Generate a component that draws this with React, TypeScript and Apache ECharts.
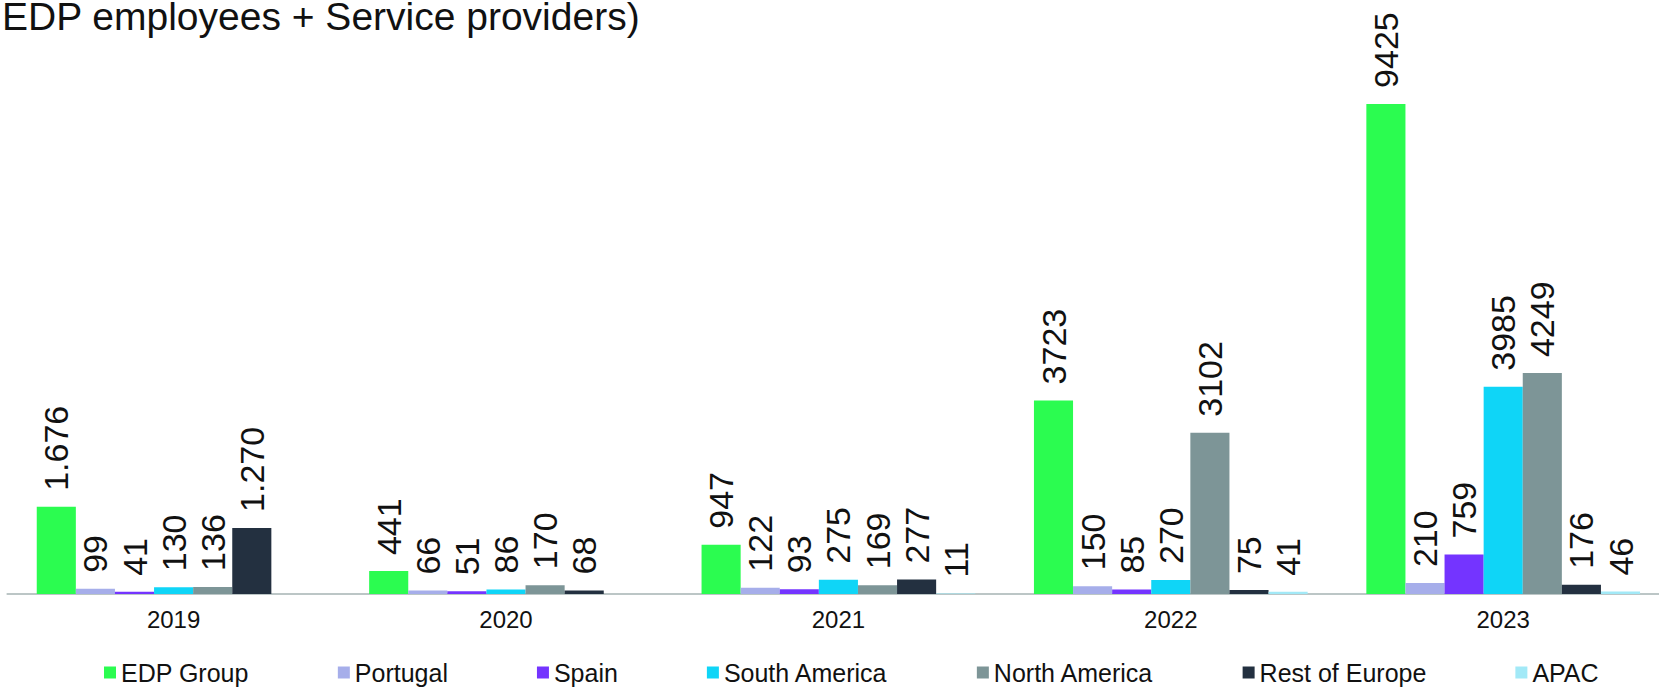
import React, { useEffect, useRef } from "react";
import * as echarts from "echarts";

const titleText = "EDP employees + Service providers)";
const years = ["2019", "2020", "2021", "2022", "2023"];
const seriesNames = [
  "EDP Group",
  "Portugal",
  "Spain",
  "South America",
  "North America",
  "Rest of Europe",
  "APAC",
];
const edpGroup = [1676, 441, 947, 3723, 9425];
const portugal = [99, 66, 122, 150, 210];
const spain = [41, 51, 93, 85, 759];
const southAmerica = [130, 86, 275, 270, 3985];
const northAmerica = [136, 170, 169, 3102, 4249];
const restOfEurope = [1270, 68, 277, 75, 176];
const apac = [null, null, 11, 41, 46];
const dotSeparatorYears = ["2019"];

const seriesValues = [edpGroup, portugal, spain, southAmerica, northAmerica, restOfEurope, apac];
const seriesColors = ["#2bfc50", "#a6aeea", "#7434ff", "#0fd5f7", "#7d9597", "#233040", "#a2e9f7"];

const FONT = "'Liberation Sans', Arial, Helvetica, sans-serif";

export default function App() {
  const ref = useRef<HTMLDivElement>(null);
  useEffect(() => {
    if (!ref.current) return;
    const chart = echarts.init(ref.current, undefined, { renderer: "svg" });
    const fmt = (p: any) => {
      const v = p.value;
      if (v == null) return "";
      if (dotSeparatorYears.includes(p.name) && v >= 1000) {
        const s = String(v);
        return s.slice(0, s.length - 3) + "." + s.slice(s.length - 3);
      }
      return String(v);
    };
    chart.setOption({
      animation: false,
      textStyle: { fontFamily: FONT },
      title: {
        text: titleText,
        left: -3,
        top: -8,
        textStyle: { fontSize: 39, fontWeight: "normal", color: "#111", fontFamily: FONT },
      },
      legend: {
        data: seriesNames,
        left: 104,
        top: 660,
        padding: 0,
        itemGap: 89,
        itemWidth: 12,
        itemHeight: 12,
        icon: "rect",
        textStyle: { fontSize: 25, color: "#111", fontFamily: FONT },
      },
      grid: {
        left: 7.4,
        top: 74,
        bottom: 99,
        width: 1662,
        containLabel: false,
        outerBoundsMode: "none",
      },
      xAxis: {
        type: "category",
        data: years,
        axisLine: { show: true, lineStyle: { color: "#bcc6c6", width: 2 } },
        axisTick: { show: false },
        axisLabel: { fontSize: 24, color: "#111", margin: 13, fontFamily: FONT },
      },
      yAxis: {
        type: "value",
        min: 0,
        max: 10000,
        show: false,
        splitLine: { show: false },
      },
      series: seriesNames.map((name, i) => ({
        name,
        type: "bar",
        data: seriesValues[i],
        barWidth: 39.1,
        barGap: "0%",
        itemStyle: { color: seriesColors[i] },
        label: {
          show: true,
          position: "top",
          rotate: 90,
          align: "left",
          verticalAlign: "middle",
          distance: 16,
          fontSize: 34,
          color: "#111",
          fontFamily: FONT,
          formatter: fmt,
        },
      })),
    });
    return () => chart.dispose();
  }, []);
  return (
    <div
      ref={ref}
      style={{ position: "absolute", left: 0, top: 0, width: 1659, height: 693, background: "#fff" }}
    />
  );
}
